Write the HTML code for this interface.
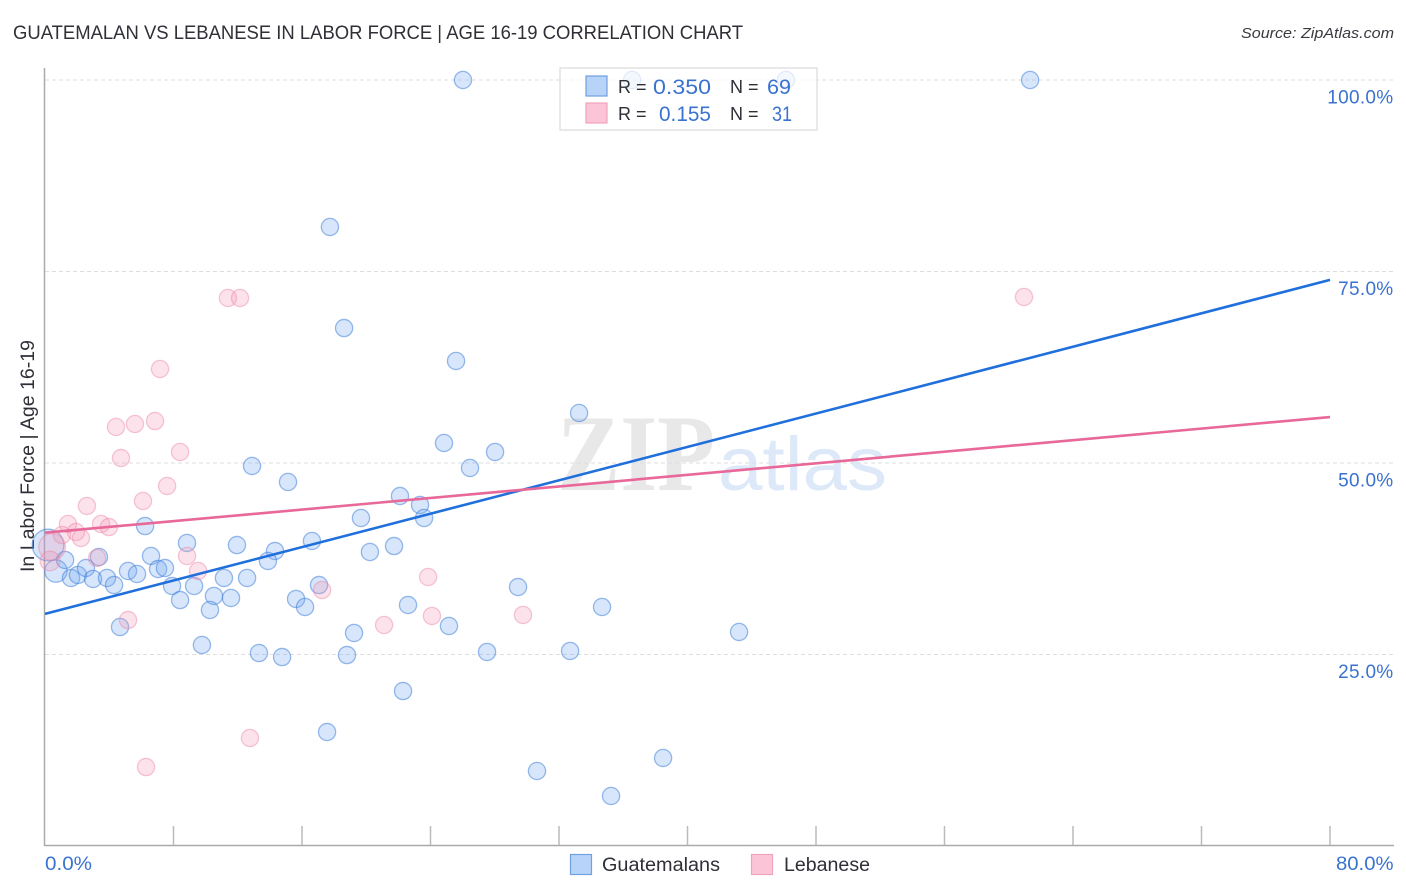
<!DOCTYPE html>
<html>
<head>
<meta charset="utf-8">
<title>Guatemalan vs Lebanese in Labor Force | Age 16-19 Correlation Chart</title>
<style>
html,body{margin:0;padding:0;background:#fff;}
svg{display:block;font-family:"Liberation Sans",sans-serif;}
</style>
</head>
<body>
<svg id="chart" width="1406" height="892" viewBox="0 0 1406 892" xmlns="http://www.w3.org/2000/svg"></svg>
<script>
const blueX = [0.19,0.68,26.02,36.55,46.13,61.33,17.74,18.62,25.59,33.25,24.84,28.02,26.46,12.89,15.13,22.10,23.35,23.60,19.67,6.23,16.62,21.73,20.23,14.32,13.88,11.95,8.84,6.60,3.36,1.25,1.62,2.05,2.55,2.99,3.86,4.30,5.17,5.73,7.04,7.47,7.91,9.28,8.41,11.14,12.58,10.52,11.58,10.27,15.63,16.19,17.06,22.60,29.45,34.68,25.15,4.67,19.24,43.21,9.77,13.32,14.76,18.80,27.52,32.69,22.29,17.56,38.48,30.63,35.24];
const blueY = [39.29,35.90,100,100,100,100,80.81,67.62,63.32,56.53,52.61,51.44,49.35,49.61,47.52,45.69,44.52,42.82,42.82,41.77,39.82,39.16,38.38,38.51,37.21,39.29,39.56,37.86,37.73,37.34,34.99,35.38,36.29,34.86,34.99,34.07,35.90,35.51,36.16,36.29,33.94,33.94,32.11,34.99,34.99,32.64,32.38,30.81,32.25,31.20,34.07,31.46,33.81,31.20,28.72,28.59,27.81,27.94,26.24,25.19,24.67,24.93,25.33,25.46,20.23,14.88,11.49,9.79,6.53];
const blueWeight = [3.4,1.7];
const pinkX = [0.44,0.31,11.39,12.14,60.95,7.16,6.85,5.60,4.42,4.73,8.41,7.60,6.10,2.61,1.43,3.49,3.98,1.93,2.24,1.06,3.24,8.84,9.53,17.25,23.85,24.09,29.76,21.11,5.17,12.76,6.29];
const pinkY = [39.03,37.21,71.54,71.54,71.67,62.27,55.48,55.09,54.70,50.65,51.44,47.00,45.04,44.39,42.04,42.04,41.64,40.99,40.21,40.60,37.60,37.86,35.90,33.42,35.12,30.03,30.16,28.85,29.50,14.10,10.31];
const pinkWeight = [2.4,1.3];
const blueTrend = [30.3,73.9];
const pinkTrend = [40.9,56.0];
const xRange = [0,80];
const xTickValues = [0,8,16,24,32,40,48,56,64,72,80];
const xEndLabels = ["0.0%","80.0%"];
const yGridValues = [25,50,75,100];
const yTickLabels = ["25.0%","50.0%","75.0%","100.0%"];

const NS = "http://www.w3.org/2000/svg";
const svg = document.getElementById("chart");
const sx = v => 45 + v * (1330 - 45) / 80;
const sy = v => 846 - v * 7.66;

function mk(tag, attrs, text, parent) {
  const el = document.createElementNS(NS, tag);
  for (const k in attrs) el.setAttribute(k, attrs[k]);
  if (text !== undefined && text !== null) el.textContent = text;
  (parent || svg).appendChild(el);
  return el;
}

let el;
el = mk("text", {x:13, y:39, "font-size":19.5, fill:"#2f2f37", textLength:730, lengthAdjust:"spacingAndGlyphs"}, "GUATEMALAN VS LEBANESE IN LABOR FORCE | AGE 16-19 CORRELATION CHART");


el = mk("text", {x:1241, y:38, "font-size":15, "font-style":"italic", fill:"#3a3a42", textLength:153, lengthAdjust:"spacingAndGlyphs"}, "Source: ZipAtlas.com");



el = mk("text", {x:557, y:490, "font-size":109, "font-weight":"bold", "font-family":"'Liberation Serif',serif", fill:"#e8e8e8", textLength:158, lengthAdjust:"spacingAndGlyphs"}, "ZIP");


el = mk("text", {x:718, y:490, "font-size":76, "font-family":"'Liberation Sans',sans-serif", fill:"#dde9f8", textLength:169, lengthAdjust:"spacingAndGlyphs"}, "atlas");



yGridValues.forEach((v, i) => {
  const g = mk("line", {x1:45, x2:1394, y1:sy(v), y2:sy(v), stroke:"#dedede", "stroke-width":1, "stroke-dasharray":"4 3"});
  
  
  const t = mk("text", {x:1393.5, y:sy(v) + 23.5, "font-size":19, fill:"#3a72d0", "text-anchor":"end", "letter-spacing":"0.3"}, yTickLabels[i]);
  
  
});

el = mk("line", {x1:44.5, x2:44.5, y1:68, y2:846, stroke:"#aaaaaa", "stroke-width":1.5});


el = mk("line", {x1:44, x2:1394, y1:845.5, y2:845.5, stroke:"#aaaaaa", "stroke-width":1.5});



xTickValues.forEach(v => {
  if (v === xRange[0]) return;
  const t = mk("line", {x1:sx(v), x2:sx(v), y1:826, y2:845, stroke:"#bbbbbb", "stroke-width":1.5});
  
  
});

el = mk("text", {x:45, y:870, "font-size":19, fill:"#3a72d0", textLength:47, lengthAdjust:"spacingAndGlyphs"}, xEndLabels[0]);


el = mk("text", {x:1336, y:870, "font-size":19, fill:"#3a72d0", textLength:57.5, lengthAdjust:"spacingAndGlyphs"}, xEndLabels[1]);



el = mk("text", {transform:"translate(34,572) rotate(-90)", "font-size":19, fill:"#2f2f37", textLength:232, lengthAdjust:"spacingAndGlyphs"}, "In Labor Force | Age 16-19");



const plot = mk("g", {});



blueX.forEach((x, i) => {
  const w = blueWeight[i] || 1;
  const c = mk("circle", {cx:sx(x), cy:sy(blueY[i]), r:8.6 * Math.sqrt(w), fill:"rgba(110,165,240,0.28)", stroke:"rgba(60,125,215,0.52)", "stroke-width":1.3}, null, plot);
  
  
});
pinkX.forEach((x, i) => {
  const w = pinkWeight[i] || 1;
  const c = mk("circle", {cx:sx(x), cy:sy(pinkY[i]), r:8.6 * Math.sqrt(w), fill:"rgba(245,150,180,0.27)", stroke:"rgba(235,130,165,0.45)", "stroke-width":1.3}, null, plot);
  
  
});

el = mk("line", {x1:sx(xRange[0]), x2:sx(xRange[1]), y1:sy(blueTrend[0]), y2:sy(blueTrend[1]), stroke:"#1f6fdc", "stroke-width":2.6}, null, plot);


el = mk("line", {x1:sx(xRange[0]), x2:sx(xRange[1]), y1:sy(pinkTrend[0]), y2:sy(pinkTrend[1]), stroke:"#e8689a", "stroke-width":2.6}, null, plot);



const legend = mk("g", {});


el = mk("rect", {x:560, y:68, width:257, height:62, fill:"rgba(255,255,255,0.72)", stroke:"#dddddd", "stroke-width":1.3}, null, legend);


el = mk("rect", {x:586, y:76, width:21, height:20, fill:"#b8d3f8", stroke:"#6fa0e0", "stroke-width":1.2}, null, legend);


el = mk("rect", {x:586, y:103, width:21, height:20, fill:"#fbc5d7", stroke:"#f0a3bd", "stroke-width":1.2}, null, legend);



el = mk("text", {x:618, y:93, "font-size":18, fill:"#2f2f37"}, "R =", legend);


el = mk("text", {x:653, y:94, "font-size":21, fill:"#3a72d0", textLength:58, lengthAdjust:"spacingAndGlyphs"}, "0.350", legend);


el = mk("text", {x:730, y:93, "font-size":18, fill:"#2f2f37"}, "N =", legend);


el = mk("text", {x:767, y:94, "font-size":21, fill:"#3a72d0", textLength:24, lengthAdjust:"spacingAndGlyphs"}, "69", legend);



el = mk("text", {x:618, y:120, "font-size":18, fill:"#2f2f37"}, "R =", legend);


el = mk("text", {x:659, y:121, "font-size":21, fill:"#3a72d0", textLength:52, lengthAdjust:"spacingAndGlyphs"}, "0.155", legend);


el = mk("text", {x:730, y:120, "font-size":18, fill:"#2f2f37"}, "N =", legend);


el = mk("text", {x:772, y:121, "font-size":21, fill:"#3a72d0", textLength:20, lengthAdjust:"spacingAndGlyphs"}, "31", legend);



el = mk("rect", {x:570.5, y:854.5, width:21, height:20, fill:"#b8d3f8", stroke:"#6fa0e0", "stroke-width":1.2});


el = mk("text", {x:602, y:871, "font-size":19, fill:"#2f2f37", textLength:118, lengthAdjust:"spacingAndGlyphs"}, "Guatemalans");


el = mk("rect", {x:751.5, y:854.5, width:21, height:20, fill:"#fbc5d7", stroke:"#f0a3bd", "stroke-width":1.2});


el = mk("text", {x:784, y:871, "font-size":19, fill:"#2f2f37", textLength:86, lengthAdjust:"spacingAndGlyphs"}, "Lebanese");


</script>
</body>
</html>
